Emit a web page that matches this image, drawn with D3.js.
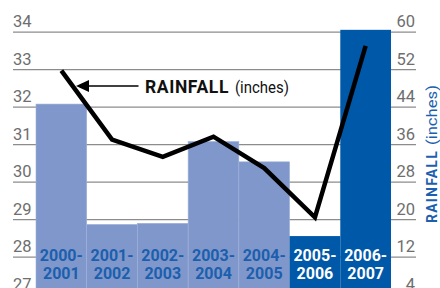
<!DOCTYPE html>
<html>
<head>
<meta charset="utf-8">
<script src="https://cdn.jsdelivr.net/npm/d3@7"></script>
<style>
  html, body { margin: 0; padding: 0; background: #fff; }
  svg { display: block; }
  .tick text { font-family: Roboto, "Liberation Sans", sans-serif; fill: #6e6e6e; }
</style>
</head>
<body>
<div id="chart"></div>
<script>
// data
const seasons = ["2000-2001", "2001-2002", "2002-2003", "2003-2004", "2004-2005", "2005-2006", "2006-2007"];
const barValues = [32.07, 28.86, 28.89, 31.07, 30.53, 28.55, 34.05];   // left scale
const rainfall = [51.7, 37.0, 33.3, 37.6, 30.9, 20.4, 57.0];          // right scale, inches
const darkSeasons = ["2005-2006", "2006-2007"];
const leftTicks = [27, 28, 29, 30, 31, 32, 33, 34];
const rightTicks = [4, 12, 20, 28, 36, 44, 52, 60];

const width = 440, height = 288;
const lightBar = "#7f97ca", darkBar = "#0058a8", labelBlue = "#1b5fae";

const svg = d3.select("#chart")
  .append("svg")
  .attr("width", width)
  .attr("height", height);

const x = d3.scaleBand()
  .domain(seasons)
  .range([36, 391])
  .padding(0);

const yLeft = d3.scaleLinear().domain([27, 34]).range([294.2, 31.7]);
const yRight = d3.scaleLinear().domain([4, 60]).range([294.2, 31.7]);

// gridlines + left labels
const leftAxis = svg.append("g")
  .attr("transform", "translate(13,0)")
  .call(d3.axisRight(yLeft).tickValues(leftTicks).tickSize(403).tickFormat(d3.format("d")));
leftAxis.select(".domain").remove();
leftAxis.selectAll("line").attr("stroke", "#8c8c8c").attr("stroke-width", 1.3);
leftAxis.selectAll("text")
  .attr("x", 0).attr("dy", -5).attr("text-anchor", "start")
  .attr("font-size", 16.5);

// right labels
const rightAxis = svg.append("g")
  .attr("transform", "translate(415,0)")
  .call(d3.axisLeft(yRight).tickValues(rightTicks).tickSize(0).tickPadding(0));
rightAxis.select(".domain").remove();
rightAxis.selectAll("text")
  .attr("x", 0).attr("dy", -5).attr("text-anchor", "end")
  .attr("font-size", 16.5);

// bars
svg.append("g")
  .selectAll("rect")
  .data(seasons)
  .join("rect")
    .attr("x", d => x(d))
    .attr("width", x.bandwidth())
    .attr("y", (d, i) => yLeft(barValues[i]))
    .attr("height", (d, i) => yLeft(27) - yLeft(barValues[i]))
    .attr("fill", d => darkSeasons.includes(d) ? darkBar : lightBar)
    .attr("stroke", d => darkSeasons.includes(d) ? "none" : "#9eb0da")
    .attr("stroke-width", 0.6);

// season labels
const labels = svg.append("g")
  .attr("font-family", "Roboto, 'Liberation Sans', sans-serif")
  .attr("font-weight", "bold")
  .attr("font-size", 16)
  .attr("text-anchor", "middle");

seasons.forEach(s => {
  const parts = s.split("-");
  const t = labels.append("text")
    .attr("fill", darkSeasons.includes(s) ? "#fff" : labelBlue);
  t.append("tspan").attr("x", x(s) + x.bandwidth() / 2).attr("y", 261).text(parts[0] + "-");
  t.append("tspan").attr("x", x(s) + x.bandwidth() / 2).attr("y", 278.5).text(parts[1]);
});

// rainfall line
const line = d3.line()
  .x((d, i) => x(seasons[i]) + x.bandwidth() / 2)
  .y(d => yRight(d));

svg.append("path")
  .datum(rainfall)
  .attr("d", line)
  .attr("fill", "none")
  .attr("stroke", "#000")
  .attr("stroke-width", 4.5)
  .attr("stroke-linejoin", "miter");

// annotation
const ann = svg.append("g");
ann.append("line")
  .attr("x1", 86).attr("y1", 86)
  .attr("x2", 138.5).attr("y2", 86)
  .attr("stroke", "#000").attr("stroke-width", 1.6);
ann.append("path")
  .attr("d", "M76,86 L89,80 L89,92 Z")
  .attr("fill", "#000");
const annText = ann.append("text")
  .attr("x", 145).attr("y", 93)
  .attr("font-family", "Roboto, 'Liberation Sans', sans-serif")
  .attr("fill", "#111");
annText.append("tspan").attr("font-weight", "bold").attr("font-size", 17.5)
  .attr("letter-spacing", 0.6).text("RAINFALL");
annText.append("tspan").attr("font-size", 16).attr("dx", 6)
  .attr("textLength", 54).attr("lengthAdjust", "spacingAndGlyphs").text("(inches)");

// right axis title
const title = svg.append("text")
  .attr("transform", "translate(437,223) rotate(-90)")
  .attr("font-family", "Roboto, 'Liberation Sans', sans-serif")
  .attr("fill", labelBlue);
title.append("tspan").attr("font-weight", "bold").attr("font-size", 14)
  .attr("letter-spacing", 1.2).text("RAINFALL");
title.append("tspan").attr("font-size", 14).attr("dx", 5)
  .attr("textLength", 60).attr("lengthAdjust", "spacingAndGlyphs").text("(inches)");
</script>
</body>
</html>
